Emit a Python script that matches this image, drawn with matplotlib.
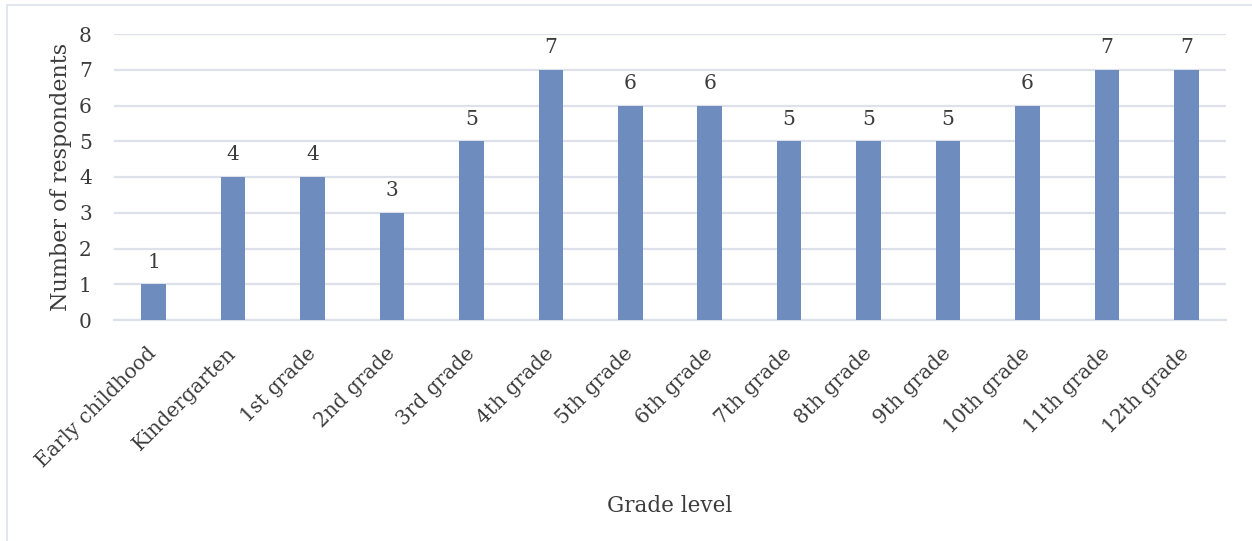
import matplotlib
matplotlib.use("Agg")
import matplotlib.pyplot as plt
from matplotlib.patches import Rectangle

categories = ["Early childhood", "Kindergarten", "1st grade", "2nd grade", "3rd grade",
              "4th grade", "5th grade", "6th grade", "7th grade", "8th grade",
              "9th grade", "10th grade", "11th grade", "12th grade"]
respondents = [1, 4, 4, 3, 5, 7, 6, 6, 5, 5, 5, 6, 7, 7]
y_ticks = [0, 1, 2, 3, 4, 5, 6, 7, 8]

text_color = "#3C3C3C"
bar_color = "#6E8DBE"
grid_color = "#DCE1EC"

plt.rcParams["font.family"] = ["DejaVu Serif"]

W, H = 1252, 541
fig = plt.figure(figsize=(W / 100, H / 100), dpi=100)
fig.patch.set_facecolor("white")

# outer chart frame (left and top edges fall inside the canvas)
fig.patches.append(Rectangle((7 / W, -0.02), 1.0, 1 - 5 / H + 0.02,
                             transform=fig.transFigure, fill=False,
                             edgecolor=grid_color, linewidth=1.2))

ax = fig.add_axes([114 / W, 1 - 320 / H, (1226 - 114) / W, (320 - 34) / H])
x = list(range(len(categories)))
bars = ax.bar(x, respondents, width=0.31, color=bar_color, zorder=3)
ax.bar_label(bars, labels=[str(v) for v in respondents], padding=9,
             fontsize=14.5, color=text_color)

ax.set_xlim(-0.5, len(categories) - 0.5)
ax.set_ylim(0, 8)
ax.set_yticks(y_ticks)
ax.set_yticklabels([str(t) for t in y_ticks], fontsize=14.5, color=text_color)
ax.yaxis.grid(True, color=grid_color, linewidth=1.6, zorder=0)
ax.set_axisbelow(True)
for s in ["top", "right", "left"]:
    ax.spines[s].set_visible(False)
ax.spines["bottom"].set_color(grid_color)
ax.spines["bottom"].set_linewidth(1.6)
ax.tick_params(axis="both", length=0)
ax.tick_params(axis="y", pad=16)

ax.set_xticks(x)
ax.set_xticklabels(categories, rotation=45, ha="right", va="center",
                   rotation_mode="anchor", fontsize=14.5, color=text_color)
ax.tick_params(axis="x", pad=22)

ax.set_ylabel("Number of respondents", fontsize=16, color=text_color)
ax.yaxis.set_label_coords(-42 / (1226 - 114), 0.5)
ax.set_xlabel("Grade level", fontsize=15.5, color=text_color)
ax.xaxis.set_label_coords(0.5, (320 - 495) / (320 - 34))

fig.savefig("out.png", dpi=100, facecolor="white")
